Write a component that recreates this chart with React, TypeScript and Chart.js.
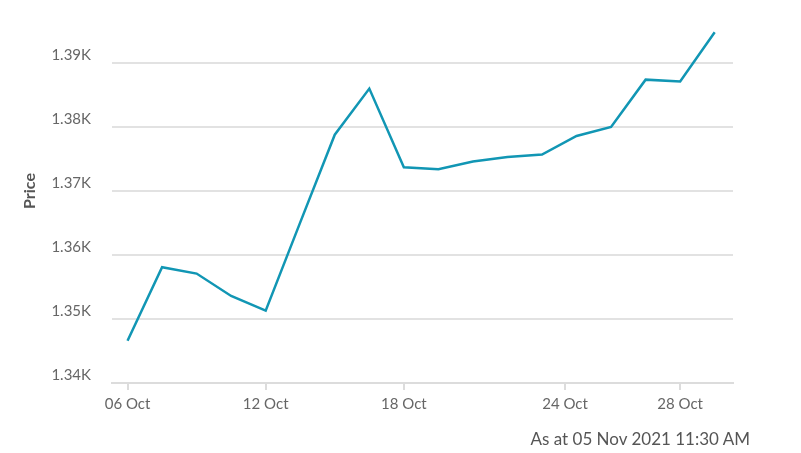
import React, { useEffect, useRef } from "react";
import { Chart, registerables } from "chart.js";

Chart.register(...registerables);

const tradingDates = [
  "2021-10-06", "2021-10-07", "2021-10-08", "2021-10-11", "2021-10-12", "2021-10-13",
  "2021-10-14", "2021-10-15", "2021-10-18", "2021-10-19", "2021-10-20", "2021-10-21",
  "2021-10-22", "2021-10-25", "2021-10-26", "2021-10-27", "2021-10-28", "2021-10-29",
];
const prices = [
  1346.6, 1358.1, 1357.1, 1353.6, 1351.3, 1365.1, 1378.8, 1386.0, 1373.7,
  1373.4, 1374.6, 1375.3, 1375.7, 1378.6, 1380.0, 1387.4, 1387.1, 1394.8,
];
const tickDates = ["2021-10-06", "2021-10-12", "2021-10-18", "2021-10-24", "2021-10-28"];
const tickLabels = ["06 Oct", "12 Oct", "18 Oct", "24 Oct", "28 Oct"];
const yTicks = [1340, 1350, 1360, 1370, 1380, 1390];
const yTitle = "Price";
const footerText = "As at 05 Nov 2021 11:30 AM";

const dayNum = (s: string) => Date.parse(s + "T00:00:00Z") / 86400000;

// position of a calendar date on the trading-day index axis (weekends compressed)
function dateToIndex(s: string): number {
  const d = dayNum(s);
  for (let i = 0; i < tradingDates.length - 1; i++) {
    const a = dayNum(tradingDates[i]);
    const b = dayNum(tradingDates[i + 1]);
    if (d >= a && d <= b) return i + (d - a) / (b - a);
  }
  return tradingDates.length - 1;
}

const FONT = "Lato, 'Open Sans', sans-serif";

const yTitlePlugin = {
  id: "yTitlePlugin",
  afterDraw(chart: any) {
    const c = chart.ctx;
    c.save();
    c.translate(30, 191);
    c.rotate(-Math.PI / 2);
    c.font = `bold 16px ${FONT}`;
    c.fillStyle = "#555555";
    c.textAlign = "center";
    c.textBaseline = "middle";
    c.fillText(yTitle, 0, 0);
    c.restore();
  },
};

export default function App() {
  const ref = useRef<HTMLCanvasElement | null>(null);

  useEffect(() => {
    document.body.style.margin = "0";
    const ctx = ref.current!.getContext("2d")!;
    const tickPositions = tickDates.map(dateToIndex);
    const chart = new Chart(ctx, {
      type: "line",
      data: {
        datasets: [
          {
            data: prices.map((p, i) => ({ x: i, y: p })),
            borderColor: "#1196b4",
            borderWidth: 2.5,
            pointRadius: 0,
            tension: 0,
            fill: false,
          },
        ],
      },
      options: {
        animation: false,
        responsive: false,
        maintainAspectRatio: false,
        layout: { padding: { top: 31, right: 68, bottom: 0, left: 0 } },
        plugins: { legend: { display: false }, tooltip: { enabled: false } },
        scales: {
          x: {
            type: "linear",
            min: -0.45,
            max: 17.53,
            afterBuildTicks: (scale: any) => {
              scale.ticks = tickPositions.map((v) => ({ value: v }));
            },
            afterFit: (scale: any) => {
              scale.height = 70;
            },
            grid: {
              display: true,
              drawOnChartArea: false,
              drawTicks: true,
              tickLength: 7,
              color: "#dcdcdc",
              lineWidth: 2,
            },
            border: { display: true, color: "#dcdcdc", width: 2 },
            ticks: {
              autoSkip: false,
              maxRotation: 0,
              padding: 5,
              color: "#666666",
              font: { family: FONT, size: 15 },
              callback: (v: any) => {
                const k = tickPositions.findIndex((p) => Math.abs(p - Number(v)) < 1e-6);
                return k >= 0 ? tickLabels[k] : "";
              },
            },
          },
          y: {
            type: "linear",
            min: 1340,
            max: 1395,
            afterBuildTicks: (scale: any) => {
              scale.ticks = yTicks.map((v) => ({ value: v }));
            },
            afterFit: (scale: any) => {
              scale.width = 112;
            },
            grid: {
              color: "#e2e2e2",
              lineWidth: 2,
              drawTicks: false,
            },
            border: { display: false },
            ticks: {
              padding: 21,
              labelOffset: -8,
              color: "#666666",
              font: { family: FONT, size: 15 },
              callback: (v: any) => (Number(v) / 1000).toFixed(2) + "K",
            },
          },
        },
      },
      plugins: [yTitlePlugin],
    });
    return () => chart.destroy();
  }, []);

  return (
    <div style={{ position: "fixed", left: 0, top: 0, width: 801, height: 453, background: "#fff" }}>
      <canvas ref={ref} width={801} height={453} style={{ display: "block" }} />
      <div
        style={{
          position: "absolute",
          right: 51,
          top: 428,
          fontFamily: FONT,
          fontSize: 17,
          color: "#555555",
          whiteSpace: "nowrap",
        }}
      >
        {footerText}
      </div>
    </div>
  );
}
